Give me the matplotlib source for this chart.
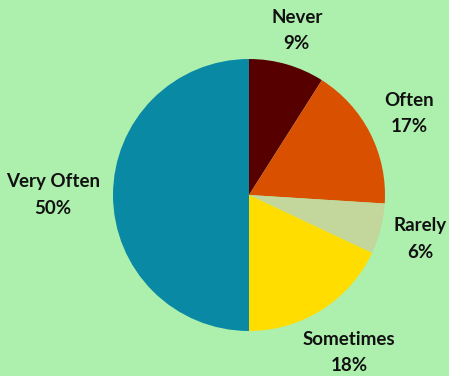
import matplotlib
matplotlib.use("Agg")
import matplotlib.pyplot as plt
import numpy as np

categories = ["Never", "Often", "Rarely", "Sometimes", "Very Often"]
shares = [9, 17, 6, 18, 50]
colors = ["#570000", "#d95000", "#c3d69b", "#ffdd00", "#0a89a5"]
label_dist = [1.26, 1.32, 1.30, 1.37, 1.44]

W, H = 449, 376
fig = plt.figure(figsize=(W / 100, H / 100), dpi=100)
fig.patch.set_facecolor("#adf0ad")

cx, cy, r = 249, 195, 136
ax = fig.add_axes([(cx - r) / W, (H - cy - r) / H, 2 * r / W, 2 * r / H])
ax.set_facecolor("none")

wedges, _ = ax.pie(shares, colors=colors, startangle=90, counterclock=False,
                   radius=1, wedgeprops=dict(linewidth=0))
ax.set_xlim(-1, 1)
ax.set_ylim(-1, 1)
ax.set_aspect("equal")
ax.axis("off")

for w, name, val, d in zip(wedges, categories, shares, label_dist):
    ang = np.deg2rad((w.theta1 + w.theta2) / 2)
    ax.text(d * np.cos(ang), d * np.sin(ang), f"{name}\n{val}%",
            ha="center", va="center", fontsize=13.5, fontweight="bold",
            family="Lato", linespacing=1.65, clip_on=False, color="#111111")

fig.savefig("out.png", dpi=100, facecolor=fig.get_facecolor())
